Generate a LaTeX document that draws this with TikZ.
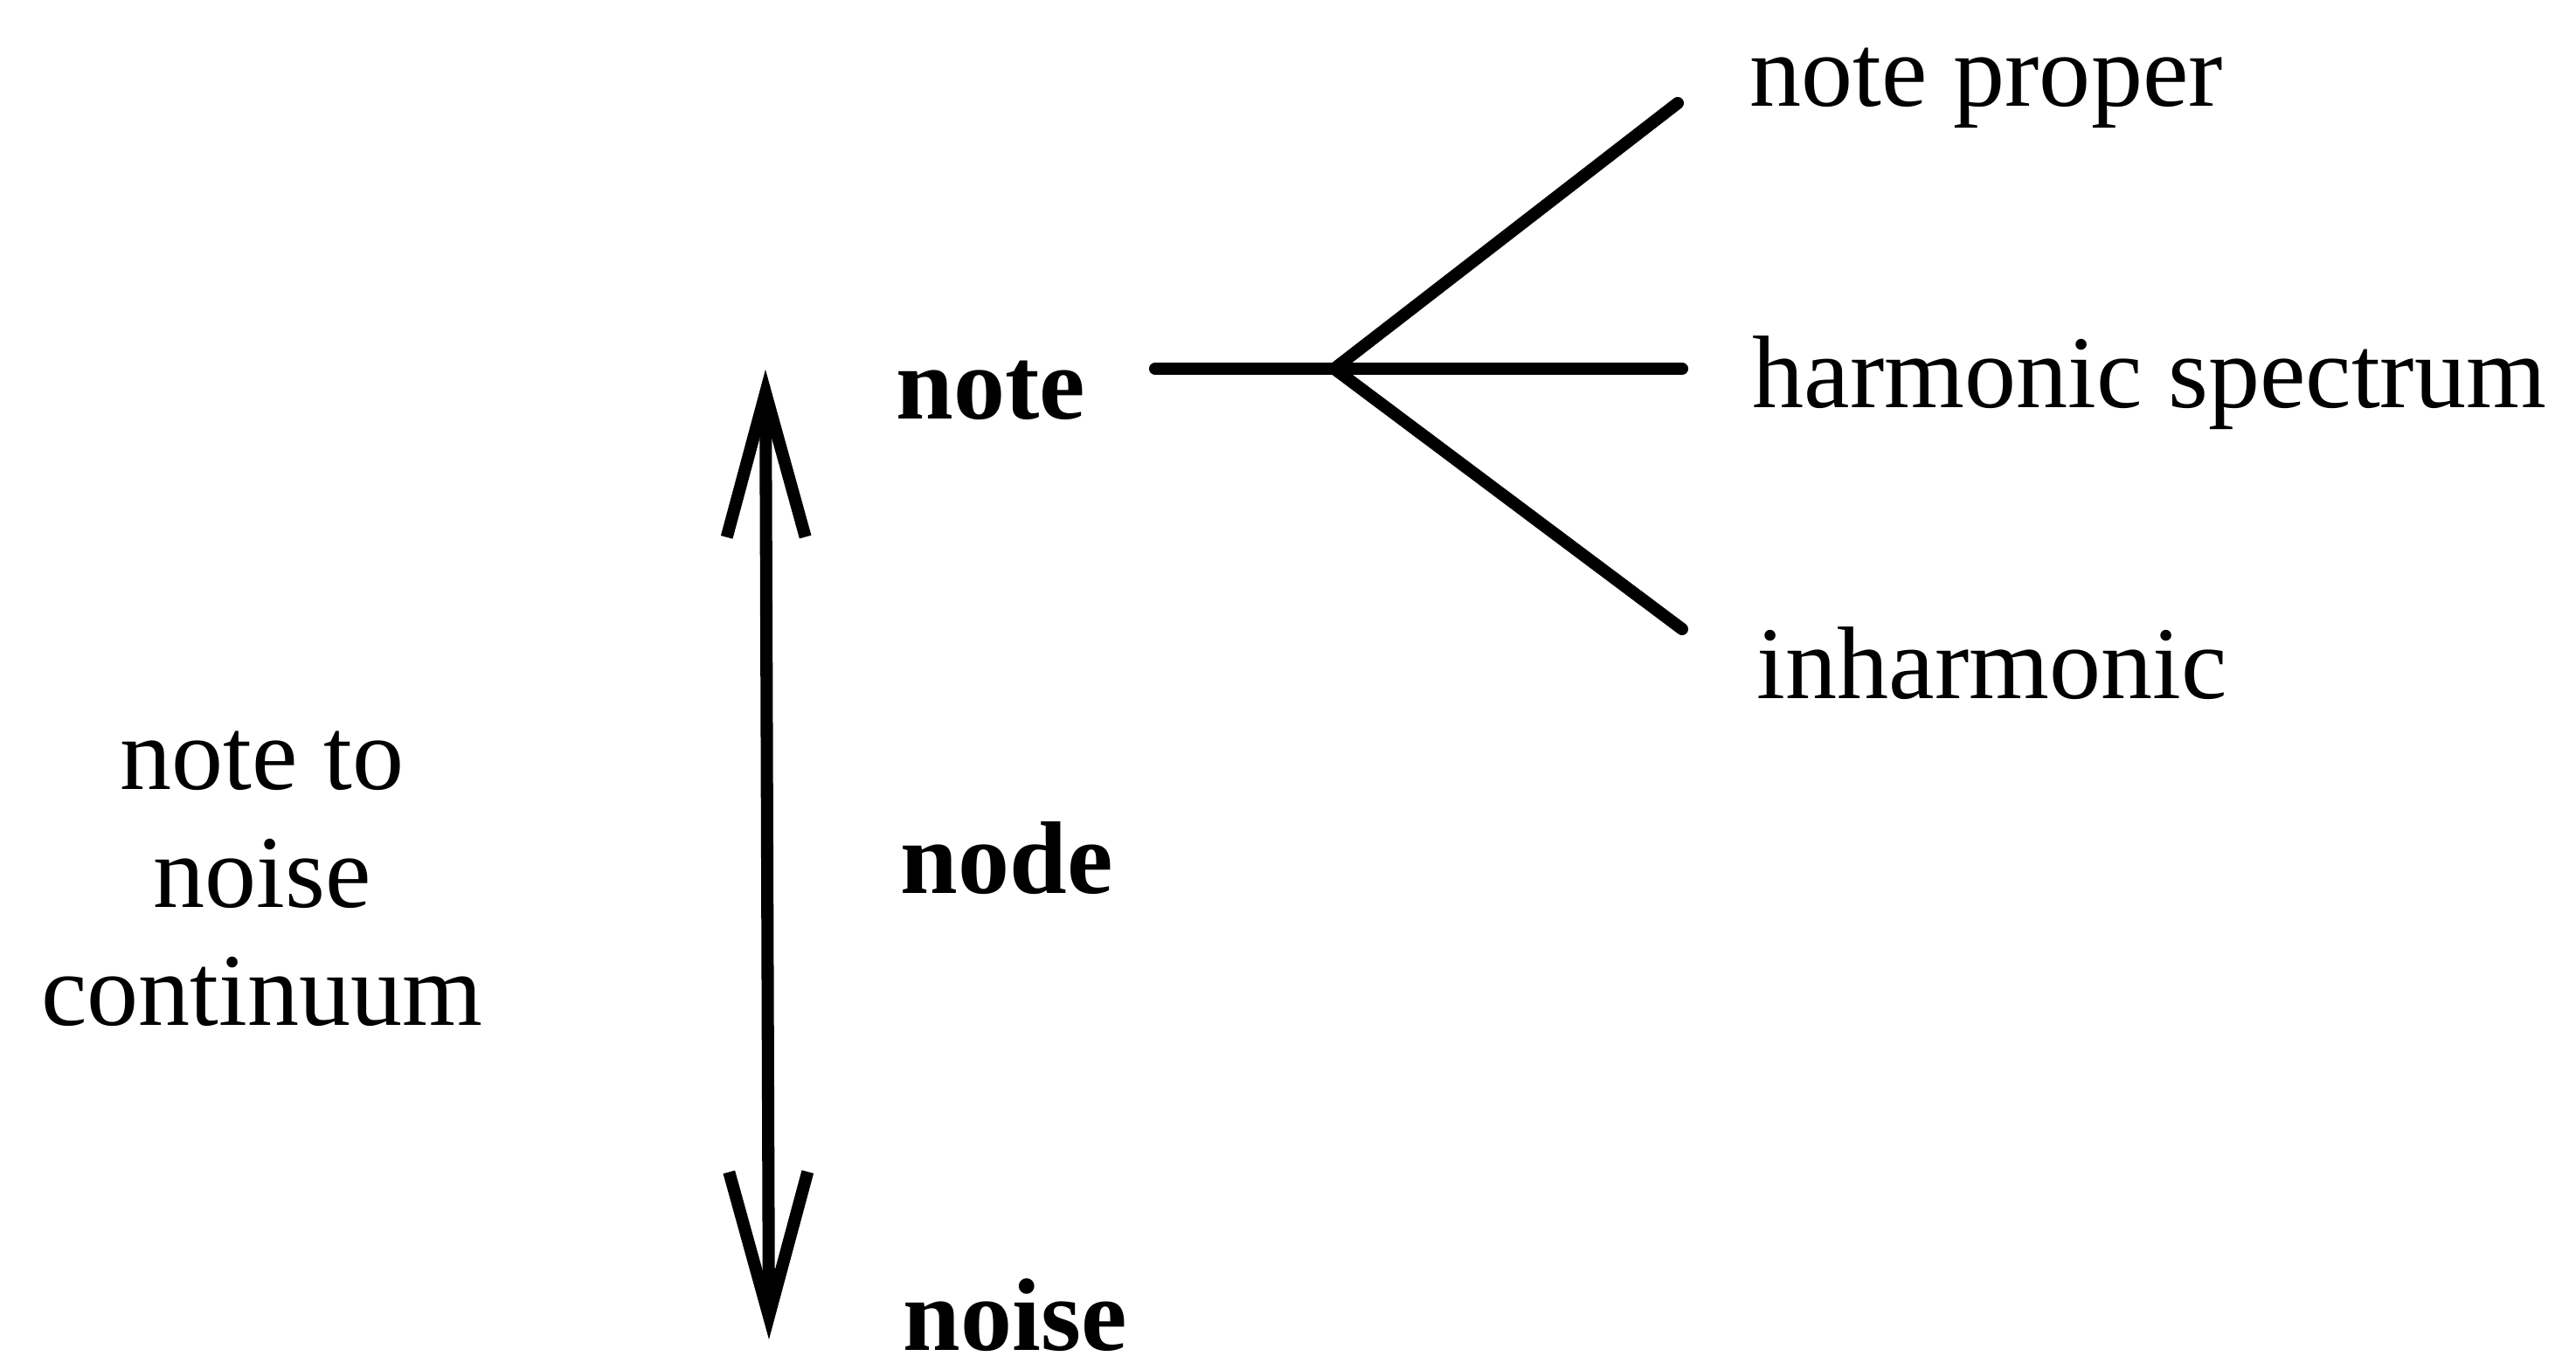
\documentclass[tikz,border=0pt]{standalone}
\usepackage{fontspec}
\setmainfont{Liberation Serif}
\usepackage{tikz}
\usetikzlibrary{arrows.meta,positioning}

\tikzset{
  lbl/.style={anchor=base west, inner sep=0pt, font=\fontsize{33.6}{38.3}\selectfont},
  level/.style={lbl, font=\fontsize{33.6}{38.3}\selectfont\bfseries},
  stroke/.style={line width=4pt, line cap=round, line join=round},
  barb/.style={stroke, {Straight Barb[length=16.5mm,width=9mm,line width=4pt]}-{Straight Barb[length=16.5mm,width=9mm,line width=4pt]}}
}

\begin{document}
\begin{tikzpicture}
    \useasboundingbox (0,0) rectangle (29.48,15.67);

    % levels along the continuum
    \node[level] (note) at (10.25,10.87) {note};
    \node[level] (node) at (10.30,5.44) {node};
    \node[level] (noise) at (10.33,0.22) {noise};

    % kinds of note
    \node[lbl] (proper) at (20.02,14.45) {note proper};
    \node[lbl] (harm) at (20.05,11.00) {harmonic spectrum};
    \node[lbl] (inharm) at (20.10,7.67) {inharmonic};

    % continuum label (base = last line)
    \node[lbl, anchor=base, align=center] (cont) at (3.0,3.94)
      {note to\\noise\\continuum};

    % vertical double arrow
    \coordinate (top) at (8.76,11.44);
    \coordinate (bot) at (8.80,0.34);
    \draw[barb] (bot) -- (top);

    % fork from note
    \coordinate (stem) at (13.22,11.45);
    \coordinate (fork) at (15.27,11.45);
    \coordinate (properEnd) at (19.20,14.49);
    \coordinate (harmEnd) at (19.25,11.45);
    \coordinate (inharmEnd) at (19.25,8.47);
    \draw[stroke] (stem) -- (fork) -- (harmEnd);
    \draw[stroke] (fork) -- (properEnd);
    \draw[stroke] (fork) -- (inharmEnd);
\end{tikzpicture}
\end{document}
